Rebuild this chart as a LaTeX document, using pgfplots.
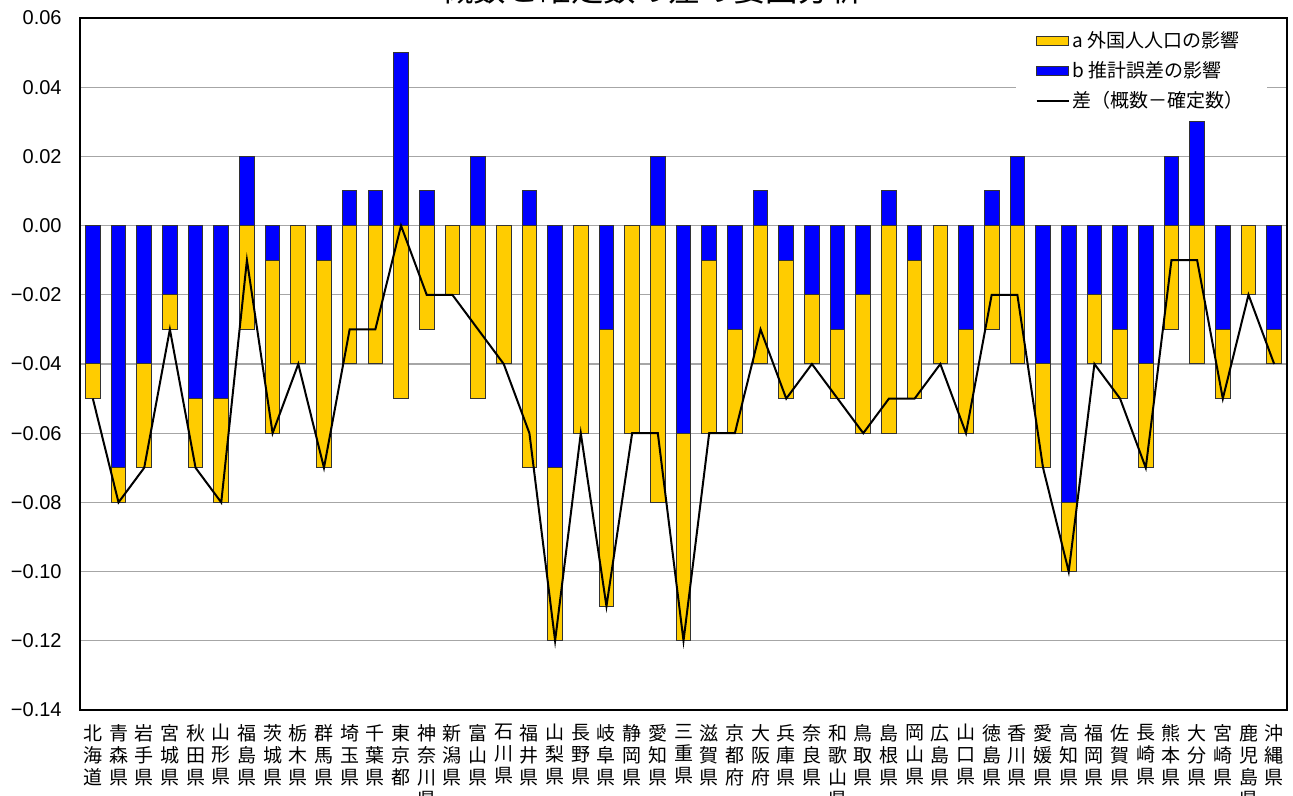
\documentclass[border=0pt]{standalone}
\usepackage{fontspec}
\setmainfont{Liberation Sans}
\newfontfamily\cjk{Noto Sans CJK JP}
\usepackage{pgfplots}
\pgfplotsset{compat=1.18}
\usepackage{pgfplotstable}
\definecolor{cYel}{HTML}{FFCC00}
\definecolor{cBlu}{HTML}{0000FF}
\definecolor{cGrid}{HTML}{A6A6A6}

% a = foreign population effect, b = estimation error effect, d = difference
\pgfplotstableread{
x a b d
0 -0.01 -0.04 -0.05
1 -0.01 -0.07 -0.08
2 -0.03 -0.04 -0.07
3 -0.01 -0.02 -0.03
4 -0.02 -0.05 -0.07
5 -0.03 -0.05 -0.08
6 -0.03 0.02 -0.01
7 -0.05 -0.01 -0.06
8 -0.04 0 -0.04
9 -0.06 -0.01 -0.07
10 -0.04 0.01 -0.03
11 -0.04 0.01 -0.03
12 -0.05 0.05 0.00
13 -0.03 0.01 -0.02
14 -0.02 0 -0.02
15 -0.05 0.02 -0.03
16 -0.04 0 -0.04
17 -0.07 0.01 -0.06
18 -0.05 -0.07 -0.12
19 -0.06 0 -0.06
20 -0.08 -0.03 -0.11
21 -0.06 0 -0.06
22 -0.08 0.02 -0.06
23 -0.06 -0.06 -0.12
24 -0.05 -0.01 -0.06
25 -0.03 -0.03 -0.06
26 -0.04 0.01 -0.03
27 -0.04 -0.01 -0.05
28 -0.02 -0.02 -0.04
29 -0.02 -0.03 -0.05
30 -0.04 -0.02 -0.06
31 -0.06 0.01 -0.05
32 -0.04 -0.01 -0.05
33 -0.04 0 -0.04
34 -0.03 -0.03 -0.06
35 -0.03 0.01 -0.02
36 -0.04 0.02 -0.02
37 -0.03 -0.04 -0.07
38 -0.02 -0.08 -0.10
39 -0.02 -0.02 -0.04
40 -0.02 -0.03 -0.05
41 -0.03 -0.04 -0.07
42 -0.03 0.02 -0.01
43 -0.04 0.03 -0.01
44 -0.02 -0.03 -0.05
45 -0.02 0 -0.02
46 -0.01 -0.03 -0.04
}\diffdata

\begin{document}
\begin{tikzpicture}
\begin{axis}[
  at={(0,0)}, anchor=south west,
  scale only axis, width=603.5pt, height=346pt,
  xmin=-0.5, xmax=46.5, ymin=-0.14, ymax=0.06,
  ytick={-0.14,-0.12,-0.10,-0.08,-0.06,-0.04,-0.02,0,0.02,0.04,0.06},
  yticklabels={−0.14,−0.12,−0.10,−0.08,−0.06,−0.04,−0.02,0.00,0.02,0.04,0.06},
  xtick={0,1,...,46},
  xticklabels={{北\\海\\道},{青\\森\\県},{岩\\手\\県},{宮\\城\\県},{秋\\田\\県},{山\\形\\県},{福\\島\\県},{茨\\城\\県},{栃\\木\\県},{群\\馬\\県},{埼\\玉\\県},{千\\葉\\県},{東\\京\\都},{神\\奈\\川\\県},{新\\潟\\県},{富\\山\\県},{石\\川\\県},{福\\井\\県},{山\\梨\\県},{長\\野\\県},{岐\\阜\\県},{静\\岡\\県},{愛\\知\\県},{三\\重\\県},{滋\\賀\\県},{京\\都\\府},{大\\阪\\府},{兵\\庫\\県},{奈\\良\\県},{和\\歌\\山\\県},{鳥\\取\\県},{島\\根\\県},{岡\\山\\県},{広\\島\\県},{山\\口\\県},{徳\\島\\県},{香\\川\\県},{愛\\媛\\県},{高\\知\\県},{福\\岡\\県},{佐\\賀\\県},{長\\崎\\県},{熊\\本\\県},{大\\分\\県},{宮\\崎\\県},{鹿\\児\\島\\県},{沖\\縄\\県}},
  major tick length=0pt,
  ymajorgrids, grid style={cGrid, line width=0.6pt},
  axis line style={black, line width=0.6pt},
  yticklabel style={font=\fontsize{10}{12}\selectfont, anchor=east, inner sep=0pt, xshift=-9pt},
  xticklabel style={font=\cjk\fontsize{9.5}{11}\selectfont, align=center, anchor=north, inner sep=0pt, yshift=-7pt},
  title={概数と確定数の差の要因分析},
  every axis title/.style={at={(0.474,1)}, anchor=base, yshift=8pt, font=\cjk\fontsize{16.2}{16.2}\selectfont, inner sep=0pt},
  legend cell align=left,
  legend style={at={(0.9834,0.994)}, anchor=north east, draw=none, fill=white,
    inner xsep=10pt, inner ysep=3pt, font=\cjk\fontsize{9.5}{11}\selectfont,
    row sep=2.5pt, nodes={inner xsep=1.5pt, inner ysep=1.5pt}},
]
\addplot[ybar, bar width=0.57, bar shift=0pt, fill=cYel, draw=black!80, line width=0.5pt,
  legend image code/.code={\draw[fill=cYel, draw=black!80, line width=0.5pt] (0pt,-2.25pt) rectangle (16pt,2.25pt);}]
  table[x=x, y expr={\thisrow{a}+min(\thisrow{b},0)}] {\diffdata};
\addplot[ybar, bar width=0.57, bar shift=0pt, fill=cBlu, draw=black!80, line width=0.5pt,
  legend image code/.code={\draw[fill=cBlu, draw=black!80, line width=0.5pt] (0pt,-2.25pt) rectangle (16pt,2.25pt);}]
  table[x=x, y=b] {\diffdata};
\addplot[sharp plot, black, line width=1pt, mark=none,
  legend image code/.code={\draw[black, line width=1pt] (0pt,0pt) -- (16pt,0pt);}]
  table[x=x, y=d] {\diffdata};
\legend{a 外国人人口の影響, b 推計誤差の影響, 差（概数－確定数）}
\end{axis}
\pgfresetboundingbox
\useasboundingbox (-40pt,-43pt) rectangle (606.5pt,355pt);
\end{tikzpicture}
\end{document}
